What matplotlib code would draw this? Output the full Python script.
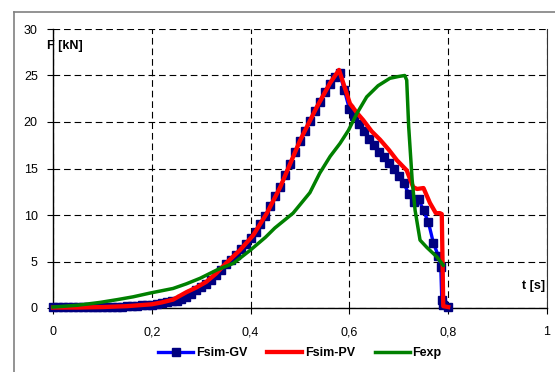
import numpy as np
import matplotlib
matplotlib.use("Agg")
import matplotlib.pyplot as plt
from matplotlib.lines import Line2D

plt.rcParams['font.family'] = ['Liberation Sans', 'DejaVu Sans']

# ---- data ----
t_gv = [0.00, 0.01, 0.02, 0.03, 0.04, 0.05, 0.06, 0.07, 0.08, 0.09,
        0.10, 0.11, 0.12, 0.13, 0.14, 0.15, 0.16, 0.17, 0.18, 0.19,
        0.20, 0.21, 0.22, 0.23, 0.24, 0.25, 0.26, 0.27, 0.28, 0.29,
        0.30, 0.31, 0.32, 0.33, 0.34, 0.35, 0.36, 0.37, 0.38, 0.39,
        0.40, 0.41, 0.42, 0.43, 0.44, 0.45, 0.46, 0.47, 0.48, 0.49,
        0.50, 0.51, 0.52, 0.53, 0.54, 0.55, 0.56, 0.57, 0.58, 0.59,
        0.60, 0.61, 0.62, 0.63, 0.64, 0.65, 0.66, 0.67, 0.68, 0.69,
        0.70, 0.71, 0.72, 0.73, 0.74, 0.75, 0.76, 0.77, 0.78, 0.785,
        0.787, 0.79, 0.80]
f_gv = [0.1, 0.1, 0.1, 0.1, 0.1, 0.1, 0.1, 0.1, 0.1, 0.1,
        0.1, 0.1, 0.1, 0.15, 0.15, 0.2, 0.2, 0.25, 0.3, 0.3,
        0.35, 0.4, 0.5, 0.6, 0.7, 0.8, 1.0, 1.2, 1.5, 1.9,
        2.3, 2.6, 3.0, 3.5, 4.1, 4.7, 5.2, 5.7, 6.3, 6.9,
        7.5, 8.2, 9.0, 9.9, 11.0, 12.0, 13.0, 14.3, 15.5, 16.8,
        18.0, 19.0, 20.1, 21.2, 22.2, 23.2, 24.1, 24.8, 25.3, 23.4,
        21.4, 20.6, 19.8, 19.0, 18.2, 17.5, 16.8, 16.2, 15.6, 15.0,
        14.2, 13.4, 12.3, 11.4, 11.7, 10.5, 9.2, 7.0, 5.6, 4.4,
        0.9, 0.3, 0.1]

t_pv = [0.00, 0.05, 0.10, 0.15, 0.20, 0.22, 0.243, 0.27, 0.29, 0.31,
        0.33, 0.35, 0.378, 0.405, 0.433, 0.46, 0.50, 0.534, 0.561, 0.579,
        0.59, 0.601, 0.615, 0.628, 0.645, 0.662, 0.68, 0.696, 0.716, 0.729,
        0.737, 0.75, 0.763, 0.775, 0.783, 0.787, 0.79, 0.80]
f_pv = [0.05, 0.05, 0.1, 0.2, 0.4, 0.6, 0.9, 1.7, 2.2, 2.8,
        3.7, 4.8, 6.2, 7.8, 10.2, 13.0, 18.0, 21.6, 24.2, 25.6,
        23.8, 22.0, 21.0, 20.2, 19.0, 18.1, 17.0, 15.9, 14.8, 13.0,
        12.8, 12.9, 11.3, 10.2, 10.2, 10.1, 0.2, 0.1]

t_exp = [0.00, 0.05, 0.095, 0.13, 0.162, 0.196, 0.243, 0.27, 0.298, 0.332,
         0.365, 0.399, 0.43, 0.449, 0.486, 0.52, 0.54, 0.561, 0.581, 0.598,
         0.615, 0.635, 0.658, 0.682, 0.70, 0.712, 0.716, 0.72, 0.727, 0.733,
         0.743, 0.757, 0.777, 0.79]
f_exp = [0.1, 0.3, 0.6, 0.9, 1.2, 1.6, 2.1, 2.6, 3.2, 4.1,
         4.8, 6.2, 7.6, 8.6, 10.2, 12.4, 14.5, 16.3, 17.7, 19.1,
         20.9, 22.7, 23.9, 24.7, 24.9, 25.0, 24.5, 19.5, 13.8, 10.5,
         7.3, 6.5, 5.5, 4.6]

x_ticks = [0, 0.2, 0.4, 0.6, 0.8, 1.0]
x_labels = ["0", "0,2", "0,4", "0,6", "0,8", "1"]
y_ticks = [0, 5, 10, 15, 20, 25, 30]

# ---- figure ----
fig = plt.figure(figsize=(5.55, 3.72), dpi=100)
ax = fig.add_axes([53/555, 1 - 308/372, (547-53)/555, (308-29)/372])

ax.plot(t_gv, f_gv, color='#0000FF', lw=2.4, marker='s', ms=5.6,
        mfc='#000080', mec='#000080', label='Fsim-GV', zorder=3, clip_on=False)
ax.plot(t_pv, f_pv, color='#FF0000', lw=3.1, label='Fsim-PV', zorder=4,
        solid_joinstyle='round', clip_on=False)
ax.plot(t_exp, f_exp, color='#008000', lw=2.5, label='Fexp', zorder=5,
        solid_joinstyle='round', clip_on=False)

ax.set_xlim(0, 1)
ax.set_ylim(0, 30)
ax.set_xticks(x_ticks)
ax.set_xticklabels(x_labels)
ax.set_yticks(y_ticks)
ax.tick_params(axis='both', direction='out', length=4, width=0.8,
               labelsize=9, colors='black')
ax.tick_params(axis='x', pad=9)
ax.tick_params(axis='y', pad=7)

ax.grid(True, color='black', linestyle=(0, (6, 3.5)), lw=0.8)
ax.set_axisbelow(True)
for s in ['left', 'bottom']:
    ax.spines[s].set_color('black')
    ax.spines[s].set_linewidth(1.0)
ax.spines['top'].set_visible(False)
ax.spines['right'].set_color('#333333')
ax.spines['right'].set_linewidth(0.8)

ax.text(-0.012, 28.2, 'F [kN]', fontsize=9, fontweight='bold',
        ha='left', va='center', zorder=6)
ax.text(0.996, 2.4, 't [s]', fontsize=9, fontweight='bold',
        ha='right', va='center', zorder=6)

leg = fig.legend(loc='center', bbox_to_anchor=(300/555, 1 - 353/372),
                 ncol=3, frameon=False, prop={'weight': 'bold', 'size': 9},
                 handlelength=2.8, columnspacing=1.6, handletextpad=0.2)

# outer chart frame (left and top edges visible)
fig.add_artist(Line2D([14/555, 14/555], [0, 1 - 12/372],
                      transform=fig.transFigure, color='#808080', lw=1.2))
fig.add_artist(Line2D([14/555, 1], [1 - 12/372, 1 - 12/372],
                      transform=fig.transFigure, color='#808080', lw=1.2))

fig.savefig('out.png', dpi=100)
